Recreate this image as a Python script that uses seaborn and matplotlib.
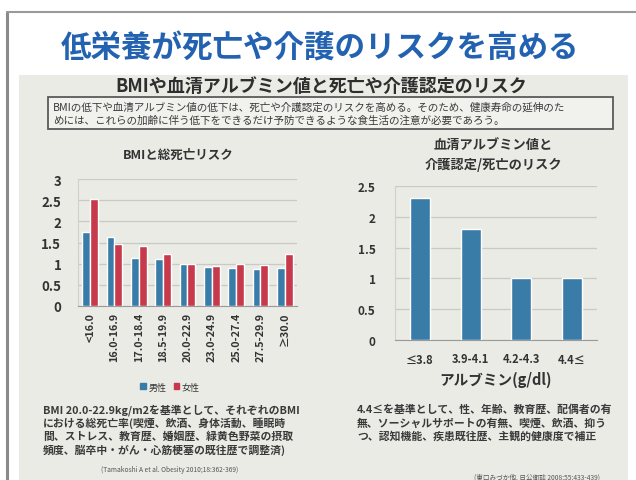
import matplotlib
matplotlib.use("Agg")
import matplotlib.pyplot as plt
import seaborn as sns
import pandas as pd
from matplotlib.patches import Rectangle
from matplotlib.lines import Line2D

sns.set_style("white")
plt.rcParams['font.family'] = ['Noto Sans CJK JP', 'DejaVu Sans']

# ---- data ----
bmi_categories = ["<16.0", "16.0-16.9", "17.0-18.4", "18.5-19.9", "20.0-22.9",
                  "23.0-24.9", "25.0-27.4", "27.5-29.9", "≥30.0"]
male_risk = [1.75, 1.64, 1.13, 1.11, 1.00, 0.91, 0.90, 0.87, 0.90]
female_risk = [2.53, 1.46, 1.42, 1.22, 1.00, 0.94, 0.99, 0.97, 1.22]
sex_labels = ["男性", "女性"]

alb_categories = ["≤3.8", "3.9-4.1", "4.2-4.3", "4.4≤"]
alb_risk = [2.30, 1.81, 1.00, 1.00]

BLUE = "#3a7ca8"
RED = "#c63a4b"
TXT = "#333333"

W, H = 636, 481
fig = plt.figure(figsize=(W / 100, H / 100), dpi=100)
fig.patch.set_facecolor("white")

def fx(px):
    return px / W

def fy(py):
    return 1 - py / H

# background panel and frame
fig.patches.append(Rectangle((fx(19), fy(481)), fx(628) - fx(19), fy(76) - fy(481),
                             transform=fig.transFigure, facecolor="#ebebe6",
                             edgecolor="none", zorder=-2))
fig.lines.append(Line2D([fx(7), fx(7)], [fy(13), fy(481)], transform=fig.transFigure,
                        color="#8a8a8a", lw=2.2, zorder=-1))
fig.lines.append(Line2D([fx(7), fx(636)], [fy(13), fy(13)], transform=fig.transFigure,
                        color="#9a9a9a", lw=1.5, zorder=-1))
# note box
fig.patches.append(Rectangle((fx(48), fy(130)), fx(613) - fx(48), fy(98) - fy(130),
                             transform=fig.transFigure, facecolor="#f1f1ee",
                             edgecolor="#5a5a5a", lw=1.3, zorder=-1))

# titles
fig.text(fx(320), fy(49), "低栄養が死亡や介護のリスクを高める", ha="center", va="center",
         fontsize=22, fontweight="bold", color="#2262b0")
fig.text(fx(321), fy(86), "BMIや血清アルブミン値と死亡や介護認定のリスク", ha="center",
         va="center", fontsize=13, fontweight="bold", color="#2e2e2e")
fig.text(fx(53), fy(107), "BMIの低下や血清アルブミン値の低下は、死亡や介護認定のリスクを高める。そのため、健康寿命の延伸のた",
         ha="left", va="center", fontsize=7.6, color="#3a3a3a")
fig.text(fx(53), fy(121), "めには、これらの加齢に伴う低下をできるだけ予防できるような食生活の注意が必要であろう。",
         ha="left", va="center", fontsize=7.6, color="#3a3a3a")

# ---- left chart ----
df_bmi = pd.DataFrame({
    "BMI": bmi_categories * 2,
    "性別": [sex_labels[0]] * len(bmi_categories) + [sex_labels[1]] * len(bmi_categories),
    "リスク": male_risk + female_risk,
})
ax1 = fig.add_axes([fx(78), fy(307), fx(297) - fx(78), fy(180) - fy(307)])
ax1.set_zorder(2)
ax1.set_facecolor("none")
sns.barplot(data=df_bmi, x="BMI", y="リスク", hue="性別", order=bmi_categories,
            hue_order=sex_labels, palette={sex_labels[0]: BLUE, sex_labels[1]: RED},
            width=0.64, saturation=1, ax=ax1, legend=False, zorder=3)
ax1.set_ylim(0, 3)
ax1.set_yticks([0, 0.5, 1, 1.5, 2, 2.5, 3])
ax1.set_yticklabels(["0", "0.5", "1", "1.5", "2", "2.5", "3"])
ax1.grid(axis="y", color="#c9c9c6", lw=0.9, zorder=0)
ax1.set_axisbelow(True)
for s in ["top", "right"]:
    ax1.spines[s].set_visible(False)
ax1.spines["left"].set_color("#d0d0cc")
ax1.spines["bottom"].set_color("#9a9a9a")
ax1.tick_params(axis="y", labelsize=9.5, colors=TXT, length=0, pad=12)
ax1.tick_params(axis="x", labelsize=7.8, colors=TXT, length=0, rotation=90, pad=4)
for t in ax1.get_yticklabels() + ax1.get_xticklabels():
    t.set_fontweight("bold")
ax1.set_xlabel("")
ax1.set_ylabel("")
fig.text(fx(178), fy(155), "BMIと総死亡リスク", ha="center", va="center",
         fontsize=9, fontweight="bold", color=TXT)
handles = [Rectangle((0, 0), 1, 1, color=BLUE), Rectangle((0, 0), 1, 1, color=RED)]
fig.legend(handles, sex_labels, loc="center", bbox_to_anchor=(fx(170), fy(388)),
           ncol=2, frameon=False, fontsize=6.5, handlelength=0.6, handleheight=0.6,
           handletextpad=0.3, columnspacing=0.8, labelcolor=TXT)

# ---- right chart ----
df_alb = pd.DataFrame({"アルブミン": alb_categories, "リスク": alb_risk})
ax2 = fig.add_axes([fx(395), fy(341), fx(597) - fx(395), fy(187) - fy(341)])
ax2.set_zorder(2)
ax2.set_facecolor("none")
sns.barplot(data=df_alb, x="アルブミン", y="リスク", order=alb_categories, color=BLUE,
            width=0.4, saturation=1, ax=ax2, zorder=3)
ax2.set_ylim(0, 2.5)
ax2.set_yticks([0, 0.5, 1, 1.5, 2, 2.5])
ax2.set_yticklabels(["0", "0.5", "1", "1.5", "2", "2.5"])
ax2.grid(axis="y", color="#c9c9c6", lw=0.9, zorder=0)
ax2.set_axisbelow(True)
for s in ["top", "right"]:
    ax2.spines[s].set_visible(False)
ax2.spines["left"].set_color("#d0d0cc")
ax2.spines["bottom"].set_color("#9a9a9a")
ax2.tick_params(axis="y", labelsize=8.5, colors=TXT, length=0, pad=14)
ax2.tick_params(axis="x", labelsize=8, colors=TXT, length=0, pad=9)
for t in ax2.get_yticklabels() + ax2.get_xticklabels():
    t.set_fontweight("bold")
ax2.set_ylabel("")
ax2.set_xlabel("アルブミン(g/dl)", fontsize=10.5, fontweight="bold", color=TXT, labelpad=4)
fig.text(fx(493), fy(145), "血清アルブミン値と", ha="center", va="center",
         fontsize=9.5, fontweight="bold", color=TXT)
fig.text(fx(493), fy(165), "介護認定/死亡のリスク", ha="center", va="center",
         fontsize=9.5, fontweight="bold", color=TXT)

# ---- notes ----
left_notes = ["BMI 20.0-22.9kg/m2を基準として、それぞれのBMI",
              "における総死亡率(喫煙、飲酒、身体活動、睡眠時",
              "間、ストレス、教育歴、婚姻歴、緑黄色野菜の摂取",
              "頻度、脳卒中・がん・心筋梗塞の既往歴で調整済)"]
right_notes = ["4.4≤を基準として、性、年齢、教育歴、配偶者の有",
               "無、ソーシャルサポートの有無、喫煙、飲酒、抑う",
               "つ、認知機能、疾患既往歴、主観的健康度で補正"]
for i, line in enumerate(left_notes):
    fig.text(fx(43), fy(410 + 13.3 * i), line, ha="left", va="center",
             fontsize=7.8, fontweight="bold", color="#3a3a3a")
for i, line in enumerate(right_notes):
    fig.text(fx(357), fy(410 + 13.3 * i), line, ha="left", va="center",
             fontsize=7.8, fontweight="bold", color="#3a3a3a")
fig.text(fx(170), fy(470), "(Tamakoshi A et al. Obesity 2010;18:362-369)", ha="center",
         va="center", fontsize=4.8, color="#555555")
fig.text(fx(600), fy(478), "(東口みづか他. 日公衛誌 2008;55:433-439)", ha="right",
         va="center", fontsize=4.8, color="#555555")

fig.savefig("out.png", dpi=100, facecolor=fig.get_facecolor())
